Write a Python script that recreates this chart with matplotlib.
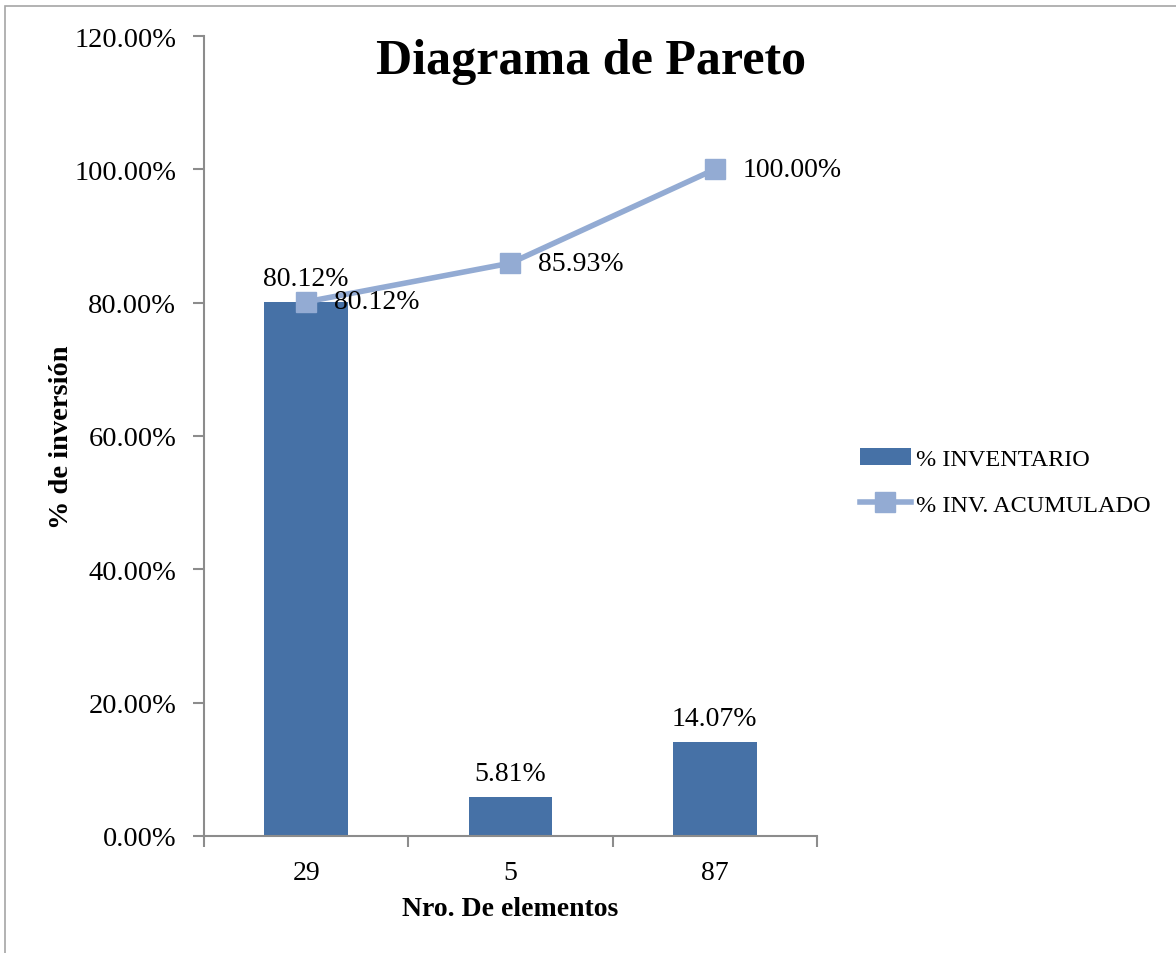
import numpy as np
import matplotlib
matplotlib.use("Agg")
import matplotlib.pyplot as plt
from matplotlib.patches import Rectangle

# ============================================================
# DATA
# ============================================================

categories = ["29", "5", "87"]
pct_inventario = [80.12, 5.81, 14.07]
pct_acumulado = [80.12, 85.93, 100.00]
y_ticks = [0, 20, 40, 60, 80, 100, 120]

BAR_COLOR = "#4671A6"
LINE_COLOR = "#93ABD3"
SPINE_COLOR = "#8C8C8C"

plt.rcParams["font.family"] = ["Liberation Serif", "DejaVu Serif"]

# ============================================================
# FIGURE
# ============================================================

fig = plt.figure(figsize=(11.76, 9.54), dpi=100)
fig.patches.append(Rectangle((5 / 1176, -0.01), 1.2, 1 - 7 / 954 + 0.01,
                             transform=fig.transFigure, fill=False,
                             edgecolor="#A6A6A6", linewidth=1.2))

ax = fig.add_axes([204 / 1176, 1 - 837 / 954, 613 / 1176, 800 / 954])

x = np.arange(len(categories))
bars = ax.bar(x, pct_inventario, width=0.41, color=BAR_COLOR,
              label="% INVENTARIO", zorder=2)
line, = ax.plot(x, pct_acumulado, color=LINE_COLOR, linewidth=4, marker="s",
                markersize=15, label="% INV. ACUMULADO", zorder=3)

for xi, v in zip(x, pct_inventario):
    ax.annotate(f"{v:.2f}%", (xi, v), xytext=(0, 8), textcoords="offset points",
                ha="center", va="bottom", fontsize=20)
for xi, v in zip(x, pct_acumulado):
    ax.annotate(f"{v:.2f}%", (xi, v), xytext=(20, 0), textcoords="offset points",
                ha="left", va="center", fontsize=20)

ax.set_xlim(-0.5, 2.5)
ax.set_ylim(0, 120)
ax.set_yticks(y_ticks)
ax.set_yticklabels([f"{t:.2f}%" for t in y_ticks])
ax.set_xticks(x)
ax.set_xticklabels(categories)
ax.set_xticks([-0.5, 0.5, 1.5, 2.5], minor=True)
ax.tick_params(axis="x", which="major", length=0, pad=17, labelsize=20)
ax.tick_params(axis="x", which="minor", length=8, color=SPINE_COLOR, width=1.5)
ax.tick_params(axis="y", length=8, color=SPINE_COLOR, width=1.5, labelsize=20.5, pad=12)

for s in ["top", "right"]:
    ax.spines[s].set_visible(False)
for s in ["left", "bottom"]:
    ax.spines[s].set_color(SPINE_COLOR)
    ax.spines[s].set_linewidth(1.5)

ax.set_xlabel("Nro. De elementos", fontsize=20, fontweight="bold", labelpad=8)
ax.set_ylabel("% de inversión", fontsize=20.5, fontweight="bold")
ax.yaxis.set_label_coords(-0.212, 0.5)
fig.text(591 / 1176, 1 - 74 / 954, "Diagrama de Pareto", fontsize=36,
         fontweight="bold", ha="center", va="baseline")

fig.legend([bars, line], ["% INVENTARIO", "% INV. ACUMULADO"],
           loc="center left", bbox_to_anchor=(838 / 1176, 1 - 483 / 954),
           frameon=False, fontsize=17.5, handlelength=2.1, labelspacing=0.95,
           handletextpad=0.2)

fig.savefig("out.png", dpi=100)
